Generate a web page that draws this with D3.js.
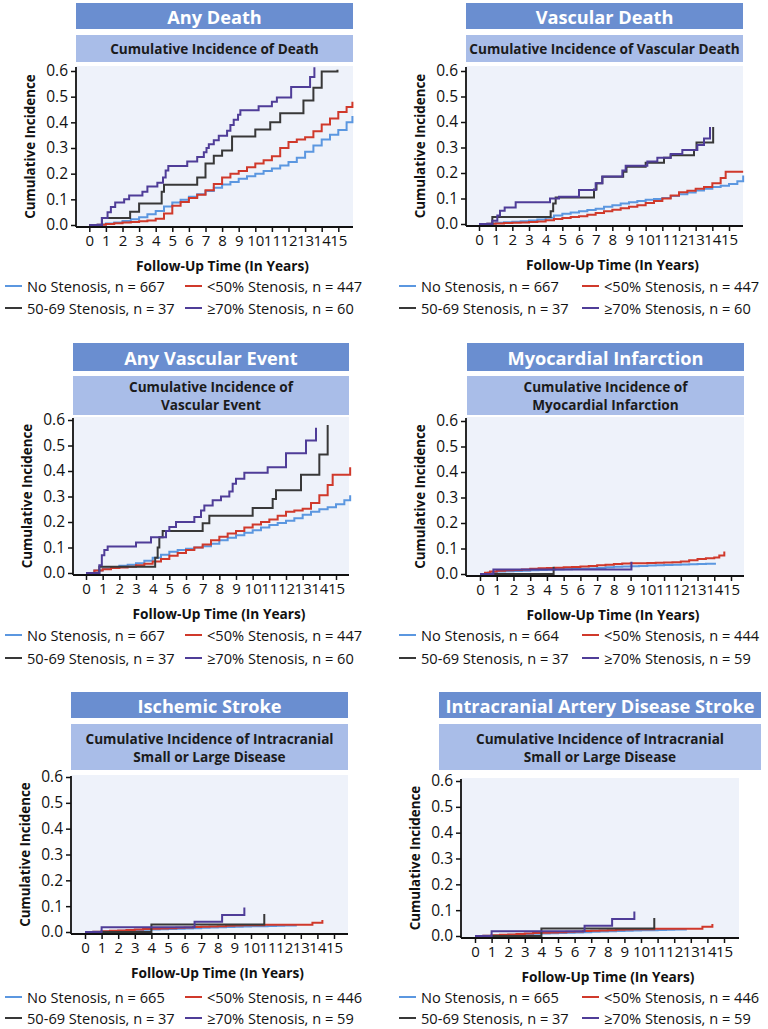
<!DOCTYPE html>
<html><head><meta charset="utf-8">
<script src="https://cdn.jsdelivr.net/npm/d3@7"></script>
<style>body{margin:0;background:#fff}svg{display:block}</style>
</head><body>
<svg id="c" width="768" height="1029"></svg>
<script>
// ---------- DATA ----------
const xTickValues = [0,1,2,3,4,5,6,7,8,9,10,11,12,13,14,15];
const yTickValues = [0,0.1,0.2,0.3,0.4,0.5,0.6];
const groupNames = ["No Stenosis", "<50% Stenosis", "50-69 Stenosis", "≥70% Stenosis"];
const groupColors = ["#5b97e0", "#d0392b", "#383838", "#4f3d98"];
const panelTitles = ["Any Death", "Vascular Death", "Any Vascular Event", "Myocardial Infarction", "Ischemic Stroke", "Intracranial Artery Disease Stroke"];
const panelSubtitles = [
  ["Cumulative Incidence of Death"],
  ["Cumulative Incidence of Vascular Death"],
  ["Cumulative Incidence of", "Vascular Event"],
  ["Cumulative Incidence of", "Myocardial Infarction"],
  ["Cumulative Incidence of Intracranial", "Small or Large Disease"],
  ["Cumulative Incidence of Intracranial", "Small or Large Disease"]
];
const panelN = [
  [667, 447, 37, 60],
  [667, 447, 37, 60],
  [667, 447, 37, 60],
  [664, 444, 37, 59],
  [665, 446, 37, 59],
  [665, 446, 37, 59]
];

// Any death
const deathNone = [[0,0],[0.5,0.002],[1,0.006],[1.5,0.01],[2,0.016],[2.5,0.022],[3,0.03],[3.5,0.042],[4,0.055],[4.5,0.072],[5,0.088],[5.5,0.098],[6,0.11],[6.5,0.12],[7,0.132],[7.5,0.145],[8,0.158],[8.5,0.168],[9,0.18],[9.5,0.19],[10,0.2],[10.5,0.21],[11,0.22],[11.5,0.232],[12,0.245],[12.5,0.262],[13,0.285],[13.5,0.31],[14,0.333],[14.5,0.352],[15,0.37],[15.5,0.4],[15.85,0.425]];
const deathLt50 = [[0,0],[0.5,0.001],[1,0.004],[1.5,0.007],[2,0.01],[2.5,0.012],[3,0.015],[3.5,0.018],[4,0.024],[4.5,0.045],[5,0.075],[5.5,0.09],[6,0.105],[6.5,0.118],[7,0.135],[7.5,0.16],[8,0.185],[8.5,0.2],[9,0.21],[9.5,0.225],[10,0.24],[10.5,0.252],[11,0.268],[11.5,0.3],[12,0.323],[12.5,0.333],[13,0.342],[13.5,0.365],[14,0.392],[14.5,0.415],[15,0.44],[15.5,0.46],[15.85,0.48]];
const death5069 = [[0,0],[0.76,0.027],[2.46,0.052],[3.0,0.084],[4.36,0.13],[4.5,0.157],[6.5,0.185],[7.0,0.24],[7.5,0.27],[8.0,0.29],[8.6,0.345],[10.0,0.372],[10.9,0.40],[11.5,0.435],[12.9,0.485],[13.5,0.535],[14.0,0.598],[14.95,0.605]];
const death70 = [[0,0],[0.76,0.027],[1.1,0.05],[1.3,0.07],[1.56,0.088],[2.1,0.10],[2.4,0.115],[3.2,0.13],[3.5,0.15],[4.1,0.165],[4.44,0.185],[4.6,0.212],[4.76,0.23],[5.9,0.247],[6.5,0.265],[6.9,0.283],[7.06,0.30],[7.2,0.315],[7.5,0.33],[7.8,0.348],[8.3,0.367],[8.5,0.39],[8.7,0.41],[8.96,0.43],[9.1,0.447],[10.2,0.463],[11.0,0.48],[11.3,0.497],[12.16,0.538],[13.3,0.577],[13.56,0.615]];

// Vascular death
const vdeathNone = [[0,0],[0.5,0.002],[1,0.005],[1.5,0.007],[2,0.009],[2.5,0.011],[3,0.014],[3.5,0.018],[4,0.025],[4.5,0.033],[5,0.04],[5.5,0.045],[6,0.05],[6.5,0.055],[7,0.06],[7.5,0.068],[8,0.074],[8.5,0.08],[9,0.085],[9.5,0.09],[10,0.095],[10.5,0.098],[11,0.102],[11.5,0.11],[12,0.117],[12.5,0.124],[13,0.131],[13.5,0.138],[14,0.145],[14.5,0.15],[15,0.157],[15.5,0.168],[15.85,0.19]];
const vdeathLt50 = [[0,0],[0.5,0.001],[1,0.002],[1.5,0.004],[2,0.005],[2.5,0.006],[3,0.008],[3.5,0.01],[4,0.015],[4.5,0.02],[5,0.024],[5.5,0.027],[6,0.03],[6.5,0.036],[7,0.043],[7.5,0.05],[8,0.056],[8.5,0.062],[9,0.068],[9.5,0.074],[10,0.082],[10.5,0.09],[11,0.1],[11.5,0.112],[12,0.125],[12.5,0.13],[13,0.138],[13.5,0.145],[14,0.16],[14.5,0.18],[14.8,0.205],[15.85,0.205]];
const vdeath5069 = [[0,0],[0.8,0.027],[4.3,0.05],[4.45,0.08],[4.6,0.104],[6.9,0.135],[7.05,0.16],[7.4,0.185],[8.65,0.205],[8.85,0.225],[10.0,0.24],[11.1,0.26],[11.5,0.27],[12.9,0.29],[13.05,0.32],[14.05,0.38]];
const vdeath70 = [[0,0],[0.8,0.013],[1.1,0.033],[1.26,0.052],[1.54,0.065],[2.2,0.085],[4.26,0.10],[4.8,0.107],[6.0,0.133],[7.0,0.16],[7.4,0.186],[8.6,0.21],[8.8,0.228],[10.1,0.245],[10.7,0.26],[11.5,0.275],[12.2,0.29],[13.1,0.31],[13.5,0.335],[13.86,0.38]];

// Any vascular event
const eventNone = [[0,0],[0.5,0.01],[1,0.018],[1.5,0.023],[2,0.028],[2.5,0.032],[3,0.038],[3.5,0.048],[4,0.06],[4.5,0.072],[5,0.083],[5.5,0.09],[6,0.095],[6.5,0.1],[7,0.105],[7.5,0.115],[8,0.128],[8.5,0.138],[9,0.148],[9.5,0.158],[10,0.168],[10.5,0.178],[11,0.188],[11.5,0.196],[12,0.205],[12.5,0.215],[13,0.228],[13.5,0.24],[14,0.25],[14.5,0.258],[15,0.27],[15.5,0.285],[15.85,0.305]];
const eventLt50 = [[0,0],[0.5,0.01],[1,0.015],[1.5,0.02],[2,0.022],[2.5,0.025],[3,0.03],[3.5,0.036],[4,0.045],[4.5,0.055],[5,0.068],[5.5,0.078],[6,0.09],[6.5,0.1],[7,0.112],[7.5,0.128],[8,0.142],[8.5,0.155],[9,0.165],[9.5,0.178],[10,0.19],[10.5,0.2],[11,0.21],[11.5,0.225],[12,0.24],[12.5,0.245],[13,0.252],[13.5,0.275],[14,0.305],[14.5,0.345],[14.8,0.385],[15.7,0.385],[15.85,0.415]];
const event5069 = [[0,0],[0.8,0.025],[4.15,0.06],[4.3,0.1],[4.4,0.14],[4.6,0.165],[7.0,0.195],[7.4,0.225],[10.0,0.255],[11.2,0.29],[11.4,0.325],[12.9,0.385],[14.0,0.465],[14.5,0.58]];
const event70 = [[0,0],[0.8,0.03],[0.95,0.07],[1.1,0.09],[1.3,0.104],[3.0,0.12],[3.9,0.14],[4.8,0.165],[5.0,0.18],[5.4,0.2],[6.5,0.22],[6.9,0.245],[7.1,0.265],[7.6,0.285],[8.1,0.30],[8.6,0.32],[8.8,0.35],[9.0,0.37],[9.5,0.393],[10.9,0.415],[12.0,0.47],[13.2,0.52],[13.8,0.57]];

// Myocardial infarction
const miNone = [[0,0],[0.5,0.006],[1,0.01],[1.5,0.011],[2,0.012],[2.5,0.013],[3,0.015],[3.5,0.016],[4,0.017],[4.5,0.018],[5,0.019],[5.5,0.02],[6,0.021],[6.5,0.022],[7,0.024],[7.5,0.026],[8,0.028],[8.5,0.029],[9,0.03],[9.5,0.031],[10,0.033],[10.5,0.034],[11,0.035],[11.5,0.036],[12,0.037],[12.5,0.038],[13,0.039],[13.5,0.04],[14.1,0.04]];
const miLt50 = [[0,0],[0.3,0.005],[0.6,0.01],[1,0.013],[1.5,0.015],[2,0.016],[2.5,0.018],[3,0.021],[3.5,0.023],[4,0.024],[4.5,0.025],[5,0.026],[5.5,0.027],[6,0.029],[6.5,0.031],[7,0.034],[7.5,0.036],[8,0.039],[8.5,0.041],[9,0.042],[9.5,0.042],[10,0.043],[10.5,0.044],[11,0.045],[11.5,0.046],[12,0.049],[12.5,0.054],[13,0.059],[13.5,0.062],[14,0.065],[14.3,0.073],[14.6,0.088]];
const mi5069 = [[0,0],[4.4,0.028]];
const mi70 = [[0,0],[0.8,0.018],[9.05,0.048]];

// Ischemic stroke (intracranial small or large disease)
const strokeNone = [[0,0],[0.5,0.001],[1,0.002],[1.5,0.003],[2,0.005],[2.5,0.006],[3,0.008],[3.5,0.009],[4,0.01],[4.5,0.011],[5,0.012],[5.5,0.013],[6,0.014],[6.5,0.015],[7,0.016],[7.5,0.017],[8,0.018],[8.5,0.019],[9,0.02],[9.5,0.021],[10,0.022],[10.5,0.022],[11,0.023],[11.5,0.024],[12,0.025],[12.7,0.027]];
const strokeLt50 = [[0,0],[0.5,0.001],[1,0.003],[1.5,0.005],[2,0.006],[2.5,0.008],[3,0.01],[3.5,0.012],[4,0.013],[4.5,0.014],[5,0.015],[5.5,0.016],[6,0.017],[6.5,0.019],[7,0.02],[7.5,0.021],[8,0.022],[8.5,0.024],[9,0.025],[9.5,0.026],[10,0.026],[10.8,0.028],[13.7,0.036],[14.3,0.046]];
const stroke5069 = [[0,0],[4.0,0.029],[10.8,0.07]];
const stroke70 = [[0,0],[1.0,0.018],[6.6,0.04],[8.26,0.066],[9.6,0.095]];

// Intracranial artery disease stroke
const icadNone = strokeNone.map(d => d.slice());
const icadLt50 = strokeLt50.map(d => d.slice());
const icad5069 = stroke5069.map(d => d.slice());
const icad70 = stroke70.map(d => d.slice());

const panelSeries = [
  [deathNone, deathLt50, death5069, death70],
  [vdeathNone, vdeathLt50, vdeath5069, vdeath70],
  [eventNone, eventLt50, event5069, event70],
  [miNone, miLt50, mi5069, mi70],
  [strokeNone, strokeLt50, stroke5069, stroke70],
  [icadNone, icadLt50, icad5069, icad70]
];

// ---------- LAYOUT ----------
const layouts = [
  {bx0:76, bx1:353, tY:[3,29], sY:[35,62], px0:76, px1:353, pTop:66, y0:225, y6:71, x0:89.3, x15:338.3, legY:[286,308], legX:[5,185]},
  {bx0:466, bx1:743, tY:[3,29], sY:[35,62], px0:466, px1:743, pTop:66, y0:224, y6:71, x0:479, x15:729, legY:[286,308], legX:[399,582]},
  {bx0:73, bx1:349, tY:[343,371], sY:[376,415], px0:73, px1:349, pTop:417, y0:573, y6:420, x0:86, x15:336, legY:[635,658], legX:[5,185]},
  {bx0:467, bx1:744, tY:[343,371], sY:[376,415], px0:466, px1:744, pTop:417, y0:574, y6:421, x0:480, x15:731, legY:[635,658], legX:[399,582]},
  {bx0:71, bx1:348, tY:[692,718], sY:[724,770], px0:71, px1:348, pTop:775, y0:932, y6:777, x0:85, x15:334, legY:[997,1018], legX:[5,185]},
  {bx0:439, bx1:761, tY:[692,718], sY:[724,770], px0:461, px1:739, pTop:778, y0:936, y6:781, x0:475, x15:724, legY:[997,1018], legX:[399,582]}
];

const FONT = "'Open Sans', Lato, sans-serif";
const svg = d3.select("#c").style("font-family", FONT);

layouts.forEach((L, i) => {
  const g = svg.append("g");
  // title bar
  g.append("rect").attr("x", L.bx0).attr("y", L.tY[0]).attr("width", L.bx1 - L.bx0).attr("height", L.tY[1] - L.tY[0]).attr("fill", "#6a8ed0");
  g.append("text").attr("x", (L.bx0 + L.bx1) / 2).attr("y", (L.tY[0] + L.tY[1]) / 2 + 1)
    .attr("text-anchor", "middle").attr("dominant-baseline", "central")
    .attr("fill", "#fff").attr("font-weight", 700).attr("font-size", 18.2).text(panelTitles[i]);
  // subtitle bar
  g.append("rect").attr("x", L.bx0).attr("y", L.sY[0]).attr("width", L.bx1 - L.bx0).attr("height", L.sY[1] - L.sY[0]).attr("fill", "#a9bde8");
  const sub = panelSubtitles[i];
  const sc = (L.sY[0] + L.sY[1]) / 2;
  sub.forEach((line, k) => {
    g.append("text").attr("x", (L.bx0 + L.bx1) / 2).attr("y", sc + (k - (sub.length - 1) / 2) * 18)
      .attr("text-anchor", "middle").attr("dominant-baseline", "central")
      .attr("fill", "#1b1b1b").attr("font-weight", 700).attr("font-size", 13.6).text(line);
  });
  // plot background
  const axisY = L.y0 + 2;
  g.append("rect").attr("x", L.px0).attr("y", L.pTop).attr("width", L.px1 - L.px0).attr("height", axisY - L.pTop).attr("fill", "#eef2fa");

  const x = d3.scaleLinear().domain([0, 15]).range([L.x0, L.x15]);
  const y = d3.scaleLinear().domain([0, 0.6]).range([L.y0, L.y6]);

  // series
  const line = d3.line().x(d => x(d[0])).y(d => y(d[1])).curve(d3.curveStepAfter);
  panelSeries[i].forEach((s, k) => {
    g.append("path").attr("d", line(s)).attr("fill", "none")
      .attr("stroke", groupColors[k]).attr("stroke-width", 2).attr("stroke-linejoin", "miter");
  });

  // y axis
  const ya = g.append("g").attr("transform", `translate(${L.px0},0)`)
    .call(d3.axisLeft(y).tickValues(yTickValues).tickFormat(d3.format(".1f")).tickSize(5).tickSizeOuter(0));
  ya.select(".domain").remove();
  ya.selectAll("line").attr("stroke", "#111").attr("stroke-width", 1.5);
  ya.selectAll("text").attr("font-size", 15.5).attr("fill", "#111").attr("x", -8).style("font-family", FONT);
  g.append("line").attr("x1", L.px0).attr("x2", L.px0).attr("y1", L.pTop + 1).attr("y2", axisY).attr("stroke", "#111").attr("stroke-width", 1.8);

  // x axis
  const xa = g.append("g").attr("transform", `translate(0,${axisY})`)
    .call(d3.axisBottom(x).tickValues(xTickValues).tickFormat(d3.format("d")).tickSize(5).tickSizeOuter(0));
  xa.select(".domain").remove();
  xa.selectAll("line").attr("stroke", "#111").attr("stroke-width", 1.5);
  xa.selectAll("text").attr("font-size", 15).attr("fill", "#111").attr("y", 8).style("font-family", FONT);
  g.append("line").attr("x1", L.px0).attr("x2", L.px1).attr("y1", axisY).attr("y2", axisY).attr("stroke", "#111").attr("stroke-width", 1.8);

  // axis titles
  g.append("text").attr("x", (L.px0 + L.px1) / 2 + 8).attr("y", L.y0 + 40)
    .attr("text-anchor", "middle").attr("dominant-baseline", "central")
    .attr("font-weight", 700).attr("font-size", 13.7).attr("fill", "#111").text("Follow-Up Time (In Years)");
  g.append("text").attr("transform", `translate(${L.px0 - 46},${(L.pTop + axisY) / 2}) rotate(-90)`)
    .attr("text-anchor", "middle").attr("dominant-baseline", "central")
    .attr("font-weight", 700).attr("font-size", 13.4).attr("fill", "#111").text("Cumulative Incidence");

  // legend
  groupNames.forEach((name, k) => {
    const lx = L.legX[k % 2];
    const ly = L.legY[Math.floor(k / 2)];
    g.append("line").attr("x1", lx).attr("x2", lx + 17).attr("y1", ly).attr("y2", ly)
      .attr("stroke", groupColors[k]).attr("stroke-width", 2);
    g.append("text").attr("x", lx + 22).attr("y", ly).attr("dominant-baseline", "central")
      .attr("font-size", 14.6).attr("fill", "#111").text(`${name}, n = ${panelN[i][k]}`);
  });
});
</script>
</body></html>
